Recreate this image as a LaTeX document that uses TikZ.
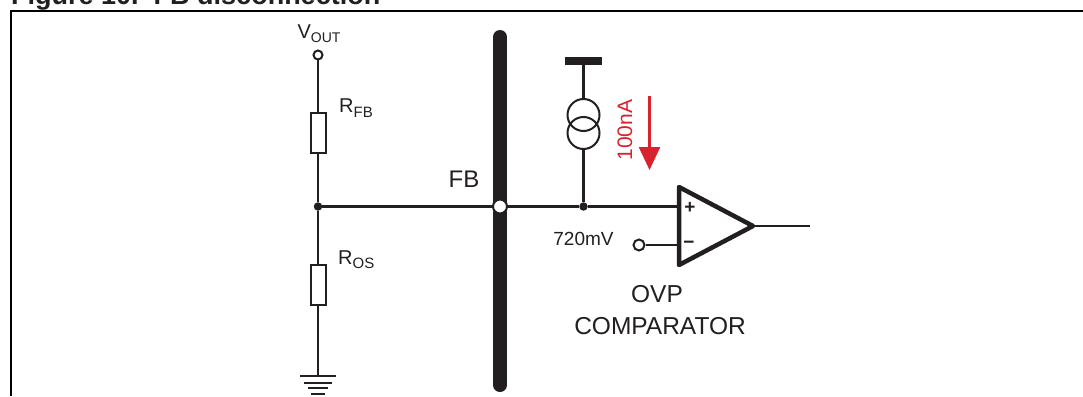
\documentclass[tikz,border=0pt]{standalone}
\usepackage{fontspec}
\setmainfont{Liberation Sans}
\usetikzlibrary{arrows.meta}
\usetikzlibrary{positioning}
\definecolor{inkdark}{RGB}{35,31,32}
\definecolor{ampred}{RGB}{215,35,45}
\newcommand{\lowsub}[3]{\raisebox{-#2}{\fontsize{#3}{#3}\selectfont #1}}
\tikzset{
    wire/.style={
           draw=inkdark,
           line width=2.3pt,
           },
    resistor/.style={
           rectangle,
           draw=inkdark, line width=2pt,
           fill=white,
           minimum width=15pt,
           minimum height=40pt,
           inner sep=0pt,
           },
    terminal/.style={
           circle,
           draw=inkdark, line width=2pt,
           fill=white,
           minimum size=9pt,
           inner sep=0pt,
           },
    junction/.style={
           circle,
           fill=inkdark,
           minimum size=8.5pt,
           inner sep=0pt,
           },
    lbl/.style={
           inner sep=0pt,
           text=inkdark,
           font=\fontsize{20}{24}\selectfont,
           },
}

\begin{document}
\begin{tikzpicture}[x=1pt,y=-1pt]
   \useasboundingbox (0,0) rectangle (1083,396);
   % caption and frame
   \node[lbl, anchor=base west, font=\bfseries\fontsize{27}{27}\selectfont] (caption) at (11,5) {Figure 10.\ \ FB disconnection};
   \coordinate (f_bl) at (11,396);
   \coordinate (f_tl) at (11,11);
   \coordinate (f_tr) at (1083,11);
   \draw[draw=black, line width=2.5pt] (f_bl) -- (f_tl) -- (f_tr);
   % divider
   \node[terminal] (vout) at (318,55) {};
   \node[lbl, anchor=base] at (319,38) {V\lowsub{OUT}{4pt}{14}};
   \node[resistor] (rfb) at (318,133) {};
   \node[lbl, anchor=base west] at (339,112) {R\lowsub{FB}{5pt}{15}};
   \node[junction] (j_1) at (318,206.5) {};
   \node[resistor] (ros) at (318,284.5) {};
   \node[lbl, anchor=base west] at (338,264) {R\lowsub{OS}{4pt}{15}};
   \coordinate (gnd) at (318,376);
   \draw[wire] (vout) -- (rfb) -- (j_1) -- (ros) -- (gnd);
   \foreach \dy/\hw in {0/18, 6.5/14.3, 12/10, 18/6.7}
      \draw[draw=inkdark, line width=2pt] ([shift={(-\hw,\dy)}]gnd) -- ([shift={(\hw,\dy)}]gnd);
   % FB bus
   \coordinate (bus_top) at (500,37);
   \coordinate (bus_bot) at (500,385);
   \draw[draw=inkdark, line width=14pt, line cap=round] (bus_top) -- (bus_bot);
   \node[terminal, minimum size=14pt] (fb) at (500,206.5) {};
   \node[lbl, anchor=base, font=\fontsize{24}{28}\selectfont] at (464,187) {FB};
   % current source
   \node[fill=inkdark, minimum width=37pt, minimum height=8pt, inner sep=0pt] (rail) at (583.5,61) {};
   \node[circle, draw=inkdark, line width=2pt, minimum size=32pt, inner sep=0pt] (cs_1) at (583.5,115) {};
   \node[circle, draw=inkdark, line width=2pt, minimum size=32pt, inner sep=0pt] (cs_2) at (583.5,133) {};
   \node[junction] (j_2) at (583.5,206.5) {};
   \draw[wire] (rail) -- (cs_1);
   \draw[wire] (cs_2) -- (j_2);
   \coordinate (ia_start) at (649.5,96);
   \coordinate (ia_end) at (649.5,170);
   \draw[draw=ampred, line width=2.5pt, -{Triangle[length=23pt,width=21pt]}] (ia_start) -- (ia_end);
   \node[lbl, rotate=90, text=ampred, font=\fontsize{21}{24}\selectfont] (ia) at (625,130) {100nA};
   % comparator
   \coordinate (oa_top) at (679,187);
   \coordinate (oa_bot) at (679,265);
   \coordinate (oa_out) at (753,226);
   \coordinate (in_p) at (679,206.5);
   \coordinate (in_m) at (679,245);
   \coordinate (out) at (810,226);
   \draw[draw=inkdark, line width=4.5pt, line join=round] (oa_top) -- (oa_out) -- (oa_bot) -- cycle;
   \node[lbl, font=\bfseries\fontsize{19}{20}\selectfont] at (690,208) {+};
   \node[lbl, font=\bfseries\fontsize{19}{20}\selectfont] at (689,245) {−};
   \node[terminal, minimum size=11pt] (vref) at (639,245) {};
   \node[lbl, anchor=base, font=\fontsize{19}{22}\selectfont] at (583.5,245) {720mV};
   \draw[wire] (j_1) -- (fb) -- (j_2) -- (in_p);
   \draw[wire] (vref) -- (in_m);
   \draw[wire] (oa_out) -- (out);
   \node[lbl, anchor=base, font=\fontsize{24.5}{28}\selectfont] (ovp) at (657,302) {OVP};
   \node[lbl, anchor=base, font=\fontsize{24.5}{28}\selectfont] (comp) at (660,334) {COMPARATOR};
\end{tikzpicture}
\end{document}
